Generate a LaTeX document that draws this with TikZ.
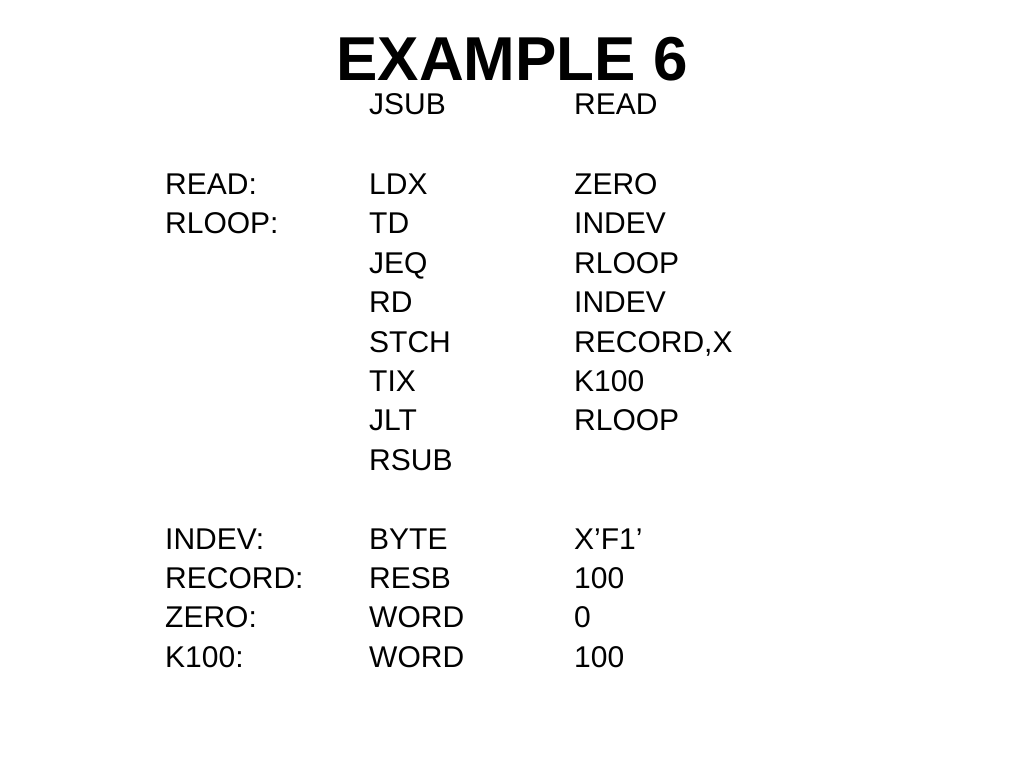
\documentclass[tikz,border=0pt]{standalone}
\usepackage{fontspec}
\setmainfont{Liberation Sans}
\begin{document}
\begin{tikzpicture}[x=1pt,y=-1pt,txt/.style={anchor=base west,inner sep=0pt,font=\fontsize{30}{30}\selectfont}]
\useasboundingbox (0,0) rectangle (1024,768);
\node[anchor=base,inner sep=0pt,font=\fontsize{62}{62}\selectfont\bfseries] (title) at (512,80) {EXAMPLE 6};
\foreach \y/\a/\b/\c [count=\i] in {
114//JSUB/READ,
194/READ:/LDX/ZERO,
233/RLOOP:/TD/INDEV,
273//JEQ/RLOOP,
312//RD/INDEV,
352//STCH/{RECORD,X},
391//TIX/K100,
430//JLT/RLOOP,
470//RSUB/,
549/INDEV:/BYTE/X’F1’,
588/RECORD:/RESB/100,
627/ZERO:/WORD/0,
667/K100:/WORD/100}{
\node[txt] (l\i) at (165,\y) {\a};
\node[txt] (o\i) at (369,\y) {\b};
\node[txt] (p\i) at (574,\y) {\c};
}
\end{tikzpicture}
\end{document}
